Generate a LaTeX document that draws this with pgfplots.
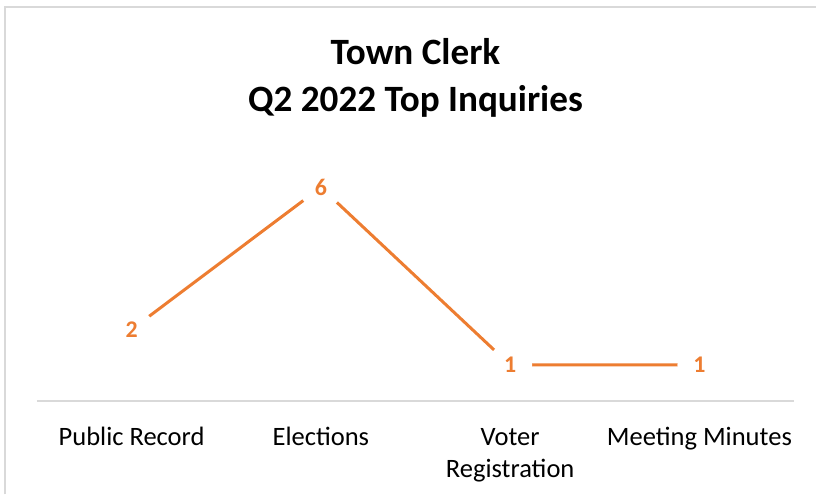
\documentclass[border=0pt]{standalone}
\usepackage{pgfplots}
\pgfplotsset{compat=1.18}
\usepackage{fontspec}
\setmainfont{Carlito}
\definecolor{xlorange}{HTML}{ED7D31}
\definecolor{xlgray}{HTML}{D9D9D9}
\begin{document}
\begin{tikzpicture}
\begin{axis}[
  scale only axis, width=379bp, height=124.5bp,
  xmin=-0.5, xmax=3.5, ymin=0, ymax=7,
  hide y axis,
  axis x line*=bottom,
  x axis line style={-, xlgray, line width=1bp},
  xtick={0,1,2,3},
  xticklabels={{\strut Public Record}, {\strut Elections}, {\strut Voter\\Registration}, {\strut Meeting Minutes}},
  major tick length=0pt,
  xticklabel style={anchor=north, align=center, inner sep=0pt, yshift=-11bp,
    font=\fontsize{13.33}{16}\selectfont, text=black},
  /pgf/number format/assume math mode=true,
  clip=false,
]
\addplot[xlorange, line width=1.5bp, mark=none,
  nodes near coords,
  every node near coord/.append style={circle, fill=white, minimum size=22bp,
    inner sep=0pt, anchor=center, text=xlorange,
    font=\bfseries\fontsize{12}{14}\selectfont}]
  coordinates {(0,2) (1,6) (2,1) (3,1)};
\end{axis}
\node[font=\bfseries\fontsize{18.67}{22}\selectfont, anchor=base] at (189.5bp,168bp) {Town Clerk};
\node[font=\bfseries\fontsize{18.67}{22}\selectfont, anchor=base] at (189.5bp,144.5bp) {Q2 2022 Top Inquiries};
\draw[xlgray, line width=1bp] (-15.75bp,-47bp) -- (-15.75bp,196.75bp) -- (390bp,196.75bp);
\path[use as bounding box] (-18.5bp,-47bp) rectangle (390bp,200.5bp);
\end{tikzpicture}
\end{document}
